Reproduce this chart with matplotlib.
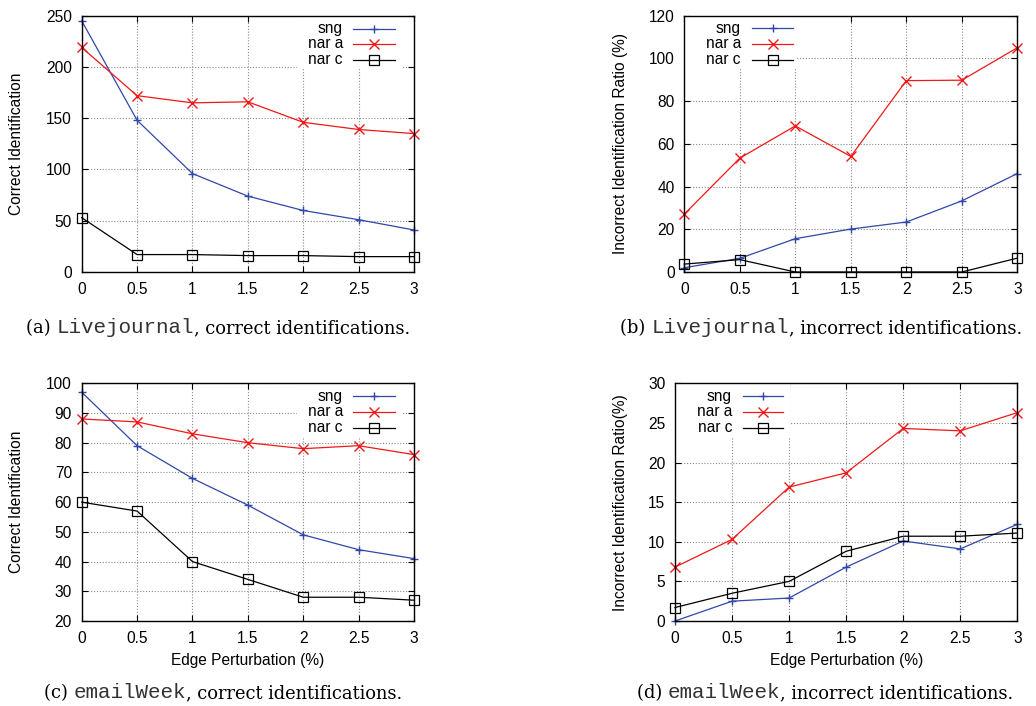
import matplotlib
matplotlib.use("Agg")
import matplotlib.pyplot as plt
from matplotlib.patches import Rectangle

# ---------------- data ----------------
x_perturb = [0, 0.5, 1, 1.5, 2, 2.5, 3]
x_ticklabels = ["0", "0.5", "1", "1.5", "2", "2.5", "3"]
series_names = ["sng", "nar a", "nar c"]

lj_correct_sng = [245, 148, 96, 74, 60, 51, 41]
lj_correct_nara = [219, 172, 165, 166, 146, 139, 135]
lj_correct_narc = [53, 17, 17, 16, 16, 15, 15]

lj_incorrect_sng = [2, 6.4, 15.6, 20.1, 23.4, 33.3, 46.1]
lj_incorrect_nara = [27.1, 53.3, 68.4, 54.1, 89.6, 89.8, 105]
lj_incorrect_narc = [3.7, 5.8, 0, 0, 0, 0, 6.5]

ew_correct_sng = [97, 79, 68, 59, 49, 44, 41]
ew_correct_nara = [88, 87, 83, 80, 78, 79, 76]
ew_correct_narc = [60, 57, 40, 34, 28, 28, 27]

ew_incorrect_sng = [0, 2.5, 2.9, 6.8, 10.1, 9.1, 12.2]
ew_incorrect_nara = [6.8, 10.3, 16.9, 18.7, 24.3, 24.0, 26.3]
ew_incorrect_narc = [1.7, 3.5, 5.0, 8.8, 10.7, 10.7, 11.1]

# ---------------- style ----------------
W, H = 1036, 706
SANS = "Liberation Sans"
FS = 11.2
BLUE = "#3048a8"
RED = "#f01818"
BLACK = "#000000"
styles = [
    dict(color=BLUE, marker="+", ms=5.5, mew=1.0),
    dict(color=RED, marker="x", ms=6.5, mew=1.0),
    dict(color=BLACK, marker="s", ms=6.5, mew=0.9, mfc="none"),
]

fig = plt.figure(figsize=(W / 100, H / 100), dpi=100)
fig.patch.set_facecolor("white")


def fx(px):
    return px / W


def fy(py):
    return 1 - py / H


def make_axes(l, r, t, b):
    return fig.add_axes([fx(l), fy(b), fx(r - l), (b - t) / H])


panels = [
    dict(box=(81.7, 414, 15.7, 272), ylim=(0, 250), ystep=50,
         data=[lj_correct_sng, lj_correct_nara, lj_correct_narc],
         ylabel="Correct Identification", ylab_x=17, xlabel=None,
         key=dict(tr=343, l0=353, l1=395, rows=(29, 44, 59.5), bx0=297, bx1=403, by1=69),
         cap=("(a) ", "Livejournal", ", correct identifications."), cap_x=218, cap_y=333),
    dict(box=(684.3, 1017.3, 15.7, 272), ylim=(0, 120), ystep=20,
         data=[lj_incorrect_sng, lj_incorrect_nara, lj_incorrect_narc],
         ylabel="Incorrect Identification Ratio (%)", ylab_x=620, xlabel=None,
         key=dict(tr=741, l0=752, l1=793, rows=(28, 44, 60), bx0=None, bx1=797, by1=68),
         cap=("(b) ", "Livejournal", ", incorrect identifications."), cap_x=821, cap_y=333),
    dict(box=(81.7, 414, 383.3, 621), ylim=(20, 100), ystep=10,
         data=[ew_correct_sng, ew_correct_nara, ew_correct_narc],
         ylabel="Correct Identification", ylab_x=17, xlabel="Edge Perturbation (%)",
         key=dict(tr=343, l0=353, l1=395, rows=(396, 412, 427.5), bx0=297, bx1=403, by1=437),
         cap=("(c) ", "emailWeek", ", correct identifications."), cap_x=223, cap_y=698),
    dict(box=(675, 1017.3, 383.3, 621), ylim=(0, 30), ystep=5,
         data=[ew_incorrect_sng, ew_incorrect_nara, ew_incorrect_narc],
         ylabel="Incorrect Identification Ratio(%)", ylab_x=620, xlabel="Edge Perturbation (%)",
         key=dict(tr=732, l0=743, l1=783, rows=(396, 412, 427.5), bx0=None, bx1=790, by1=437),
         cap=("(d) ", "emailWeek", ", incorrect identifications."), cap_x=825, cap_y=698),
]

for p in panels:
    l, r, t, b = p["box"]
    ax = make_axes(l, r, t, b)
    ax.set_axisbelow(True)
    for i, (vals, st) in enumerate(zip(p["data"], styles)):
        ax.plot(x_perturb, vals, color=st["color"], lw=0.9, marker=st["marker"],
                ms=st["ms"], mew=st["mew"], mfc=st.get("mfc", st["color"]),
                clip_on=False, zorder=3)
    ax.set_xlim(0, 3)
    ax.set_ylim(*p["ylim"])
    ax.set_xticks(x_perturb)
    ax.set_xticklabels(x_ticklabels)
    y0, y1 = p["ylim"]
    yt = list(range(y0, y1 + 1, p["ystep"]))
    ax.set_yticks(yt)
    ax.set_yticklabels([str(v) for v in yt])
    ax.tick_params(direction="in", length=4, width=0.8, top=True, right=True,
                   labelsize=FS, pad=7)
    for lab in ax.get_xticklabels() + ax.get_yticklabels():
        lab.set_fontfamily(SANS)
    ax.grid(True, color="#8a8a8a", lw=0.8, linestyle=(0, (1, 1.6)))
    for s in ax.spines.values():
        s.set_linewidth(1.0)
        s.set_zorder(5)

    # y label (anchored at its right edge when rotated)
    ax.set_ylabel(p["ylabel"], fontsize=FS, fontfamily=SANS)
    ax.yaxis.set_label_coords((p["ylab_x"] + 7.5 - l) / (r - l), 0.5)
    if p["xlabel"]:
        ax.set_xlabel(p["xlabel"], fontsize=FS, fontfamily=SANS, labelpad=5)

    # key (legend) drawn gnuplot-style, inside the axes so spines stay on top
    k = p["key"]
    bx0 = l + 1 if k["bx0"] is None else k["bx0"]
    ax.add_patch(Rectangle((fx(bx0), fy(k["by1"])), fx(k["bx1"] - bx0),
                           (k["by1"] - t - 1) / H, transform=fig.transFigure,
                           facecolor="white", edgecolor="none", zorder=1.5,
                           clip_on=False))
    for name, st, ry in zip(series_names, styles, k["rows"]):
        ax.text(fx(k["tr"]), fy(ry), name, ha="right", va="center",
                fontsize=FS, fontfamily=SANS, zorder=4, transform=fig.transFigure)
        ax.plot([fx(k["l0"]), fx(k["l1"])], [fy(ry), fy(ry)],
                color=st["color"], lw=0.9, transform=fig.transFigure,
                zorder=4, clip_on=False)
        ax.plot([fx((k["l0"] + k["l1"]) / 2)], [fy(ry)],
                color=st["color"], lw=0, marker=st["marker"],
                ms=st["ms"], mew=st["mew"], mfc=st.get("mfc", st["color"]),
                transform=fig.transFigure, zorder=4, clip_on=False)
    ax.set_xlim(0, 3)
    ax.set_ylim(*p["ylim"])

# captions: serif + monospace mixed, centred
renderer = fig.canvas.get_renderer()
SERIF_FS = 12.9
MONO_FS = 15.0
for p in panels:
    pre, mono, post = p["cap"]
    parts = [
        fig.text(0, fy(p["cap_y"]), pre, fontsize=SERIF_FS, fontfamily="DejaVu Serif", va="baseline"),
        fig.text(0, fy(p["cap_y"]), mono, fontsize=MONO_FS, fontfamily="Liberation Mono",
                 va="baseline", color="#333333"),
        fig.text(0, fy(p["cap_y"]), post, fontsize=SERIF_FS, fontfamily="DejaVu Serif", va="baseline"),
    ]
    widths = [t.get_window_extent(renderer).width for t in parts]
    total = sum(widths)
    xcur = p["cap_x"] - total / 2
    for t, w in zip(parts, widths):
        t.set_x(fx(xcur))
        xcur += w

fig.savefig("out.png", dpi=100)
